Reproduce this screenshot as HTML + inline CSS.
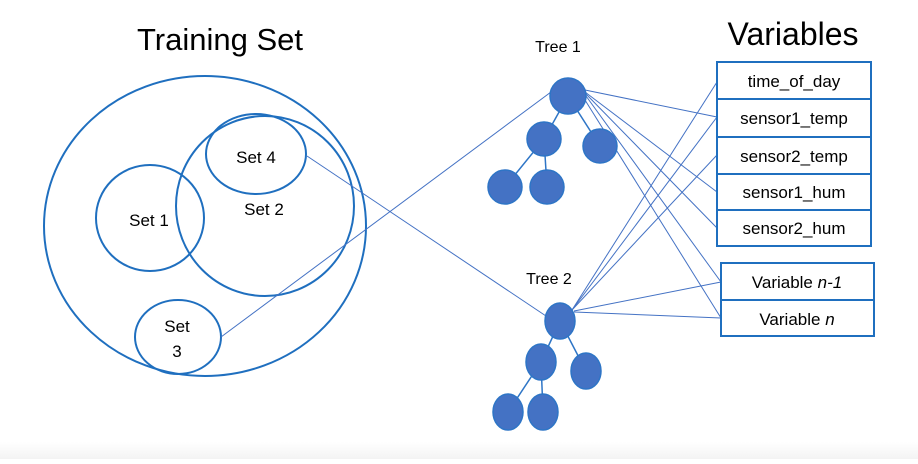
<!DOCTYPE html>
<html><head><style>
body{margin:0;background:#fff;}
svg text{font-family:"Liberation Sans",sans-serif;fill:#000;}
</style></head><body>
<svg width="918" height="459" xmlns="http://www.w3.org/2000/svg">
<defs><linearGradient id="bg" x1="0" y1="0" x2="0" y2="1"><stop offset="0" stop-color="#fff"/><stop offset="1" stop-color="#f3f3f3"/></linearGradient></defs>
<rect x="0" y="442" width="918" height="17" fill="url(#bg)"/>
<g fill="none" stroke="#1f6fbf" stroke-width="2">
<ellipse cx="205" cy="226" rx="161" ry="150"/>
<ellipse cx="150" cy="218" rx="54" ry="53"/>
<ellipse cx="265" cy="206" rx="89" ry="90"/>
<ellipse cx="256" cy="154" rx="50" ry="40"/>
<ellipse cx="178" cy="337" rx="43" ry="37"/>
</g>
<g stroke="#4472c4" stroke-width="1">
<line x1="307" y1="156" x2="546" y2="316"/>
<line x1="221" y1="337" x2="551" y2="92"/>
<line x1="585" y1="90" x2="717" y2="117"/>
<line x1="585" y1="92" x2="717" y2="192"/>
<line x1="586" y1="94" x2="717" y2="228"/>
<line x1="586" y1="96" x2="721" y2="282"/>
<line x1="585" y1="100" x2="721" y2="318"/>
<line x1="572" y1="310" x2="717" y2="82"/>
<line x1="572" y1="310" x2="717" y2="117"/>
<line x1="572" y1="310" x2="717" y2="155"/>
<line x1="574" y1="311" x2="721" y2="282"/>
<line x1="574" y1="312" x2="721" y2="318"/>
</g>
<g stroke="#2e75c6" stroke-width="1.5">
<line x1="568" y1="96" x2="544" y2="139"/><line x1="568" y1="96" x2="600" y2="146"/>
<line x1="544" y1="139" x2="505" y2="187"/><line x1="544" y1="139" x2="547" y2="187"/>
<line x1="560" y1="321" x2="541" y2="362"/><line x1="560" y1="321" x2="586" y2="371"/>
<line x1="541" y1="362" x2="508" y2="412"/><line x1="541" y1="362" x2="543" y2="412"/>
</g>
<g fill="#4472c4" stroke="#2e75c6" stroke-width="1.5">
<ellipse cx="568" cy="96" rx="18" ry="18"/>
<ellipse cx="544" cy="139" rx="17" ry="17"/>
<ellipse cx="600" cy="146" rx="17" ry="17"/>
<ellipse cx="505" cy="187" rx="17" ry="17"/>
<ellipse cx="547" cy="187" rx="17" ry="17"/>
<ellipse cx="560" cy="321" rx="15" ry="18"/>
<ellipse cx="541" cy="362" rx="15" ry="18"/>
<ellipse cx="586" cy="371" rx="15" ry="18"/>
<ellipse cx="508" cy="412" rx="15" ry="18"/>
<ellipse cx="543" cy="412" rx="15" ry="18"/>
</g>
<g fill="#fff" stroke="#1f6fbf" stroke-width="2">
<rect x="717" y="62" width="154" height="37"/>
<rect x="717" y="99" width="154" height="38"/>
<rect x="717" y="137" width="154" height="37"/>
<rect x="717" y="174" width="154" height="36"/>
<rect x="717" y="210" width="154" height="36"/>
<rect x="721" y="263" width="153" height="37"/>
<rect x="721" y="300" width="153" height="36"/>
</g>
<g font-size="17" text-anchor="middle">
<text x="794" y="87">time_of_day</text>
<text x="794" y="124">sensor1_temp</text>
<text x="794" y="162">sensor2_temp</text>
<text x="794" y="198">sensor1_hum</text>
<text x="794" y="234">sensor2_hum</text>
<text x="797" y="288">Variable <tspan font-style="italic">n-1</tspan></text>
<text x="797" y="325">Variable <tspan font-style="italic">n</tspan></text>
</g>
<text x="220" y="50" font-size="31" text-anchor="middle">Training Set</text>
<text x="793" y="45" font-size="32" text-anchor="middle">Variables</text>
<text x="558" y="52" font-size="16" text-anchor="middle">Tree 1</text>
<text x="549" y="284" font-size="16" text-anchor="middle">Tree 2</text>
<g font-size="17" text-anchor="middle">
<text x="149" y="226">Set 1</text>
<text x="264" y="215">Set 2</text>
<text x="256" y="163">Set 4</text>
<text x="177" y="332">Set</text>
<text x="177" y="357">3</text>
</g>
</svg>
</body></html>
